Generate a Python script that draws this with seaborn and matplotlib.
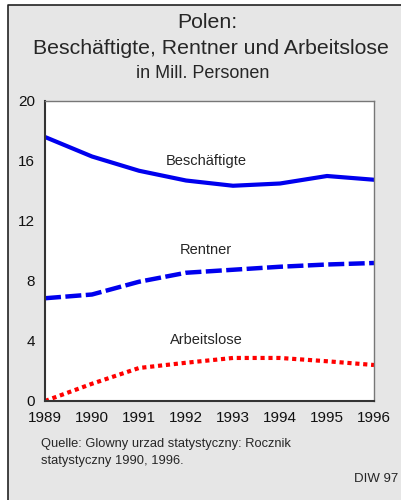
import numpy as np
import pandas as pd
import matplotlib
matplotlib.use("Agg")
import matplotlib.pyplot as plt
import seaborn as sns
from matplotlib.patches import Rectangle
from matplotlib.lines import Line2D

# --- Daten (Mill. Personen) ---
jahre = [1989, 1990, 1991, 1992, 1993, 1994, 1995, 1996]
beschaeftigte = [17.6, 16.3, 15.35, 14.7, 14.35, 14.5, 15.0, 14.75]
rentner = [6.85, 7.1, 7.95, 8.55, 8.75, 8.95, 9.1, 9.2]
arbeitslose = [0.0, 1.15, 2.2, 2.55, 2.87, 2.87, 2.65, 2.4]
y_ticks = [0, 4, 8, 12, 16, 20]

sns.set_style("white")
plt.rcParams['font.family'] = ['Liberation Sans', 'DejaVu Sans']

fig = plt.figure(figsize=(4.02, 5.0), dpi=100)
fig.patch.set_facecolor("white")

# grauer Kasten, nur linke und obere Kante sichtbar
W, H = 402, 500
x0, y1 = 8 / W, 1 - 5 / H
fig.patches.append(Rectangle((x0, 0), 1 - x0, y1, transform=fig.transFigure,
                             facecolor="#e6e6e6", edgecolor="none", zorder=-10))
fig.lines.append(Line2D([x0, x0, 1], [0, y1, y1], transform=fig.transFigure,
                        color="#222222", linewidth=1.2, zorder=-9))

ax = fig.add_axes([45 / W, 1 - 401 / H, (374 - 45) / W, 300 / H])
ax.set_facecolor("white")

df = pd.DataFrame({"Jahr": jahre, "Beschäftigte": beschaeftigte,
                   "Rentner": rentner, "Arbeitslose": arbeitslose})

sns.lineplot(data=df, x="Jahr", y="Beschäftigte", ax=ax, color="#0000ee",
             linewidth=3.0, solid_joinstyle="round")
sns.lineplot(data=df, x="Jahr", y="Rentner", ax=ax, color="#0000ee",
             linewidth=3.2)
ax.lines[-1].set_dashes([3.6, 1.0])
sns.lineplot(data=df, x="Jahr", y="Arbeitslose", ax=ax, color="#ff0000",
             linewidth=3.0)
ax.lines[-1].set_dashes([1.0, 0.9])
ax.lines[-1].set_dash_capstyle("butt")

ax.text(1992.43, 16.0, "Beschäftigte", ha="center", va="center", fontsize=10.5)
ax.text(1992.43, 10.05, "Rentner", ha="center", va="center", fontsize=10.5)
ax.text(1992.43, 4.05, "Arbeitslose", ha="center", va="center", fontsize=10.5)

ax.set_xlim(1989, 1996)
ax.set_ylim(0, 20)
ax.set_xticks(jahre)
ax.set_yticks(y_ticks)
ax.set_xticklabels([str(j) for j in jahre], fontsize=11)
ax.set_yticklabels([str(t) for t in y_ticks], fontsize=11)
ax.set_xlabel("")
ax.set_ylabel("")
ax.tick_params(direction="out", length=5, width=1, color="#333333",
               labelcolor="#111111", pad=2)
for side in ["left", "bottom"]:
    ax.spines[side].set_color("#333333")
    ax.spines[side].set_linewidth(1.5)
for side in ["top", "right"]:
    ax.spines[side].set_color("#777777")
    ax.spines[side].set_linewidth(1.0)
    ax.spines[side].set_visible(True)

fig.text(207 / W, 1 - 23 / H, "Polen:", ha="center", va="center", fontsize=15.3)
fig.text(211 / W, 1 - 48 / H, "Beschäftigte, Rentner und Arbeitslose",
         ha="center", va="center", fontsize=15.3)
fig.text(203 / W, 1 - 73 / H, "in Mill. Personen", ha="center", va="center",
         fontsize=13)

fig.text(41 / W, 1 - 444 / H, "Quelle: Glowny urzad statystyczny: Rocznik",
         ha="left", va="center", fontsize=9.3)
fig.text(41 / W, 1 - 461 / H, "statystyczny 1990, 1996.",
         ha="left", va="center", fontsize=9.3)
fig.text(398 / W, 1 - 479 / H, "DIW 97", ha="right", va="center", fontsize=9.5)

fig.savefig("out.png", dpi=100)
